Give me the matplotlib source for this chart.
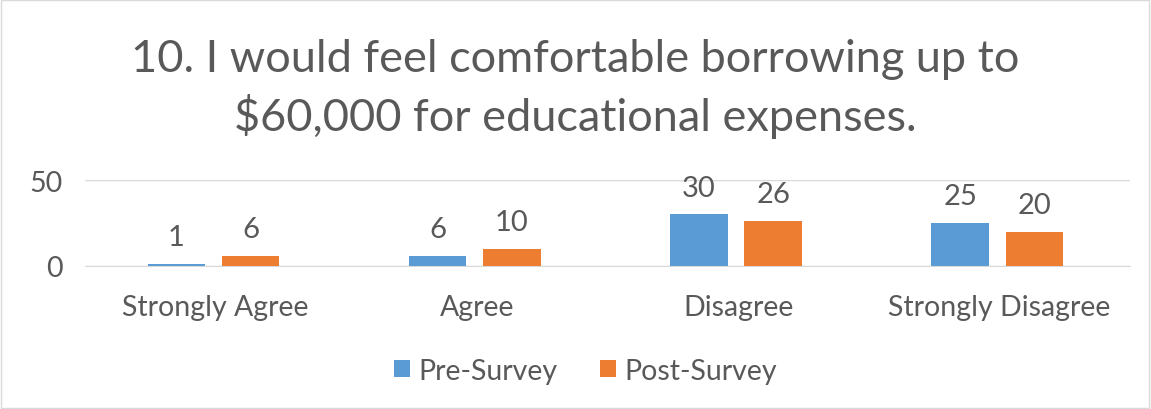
import matplotlib.pyplot as plt
import numpy as np
from matplotlib.patches import Rectangle

categories = ['Strongly Agree', 'Agree', 'Disagree', 'Strongly Disagree']
pre_survey = [1, 6, 30, 25]
post_survey = [6, 10, 26, 20]

blue = '#5B9BD5'
orange = '#ED7D31'
text_gray = '#595959'

plt.rcParams['font.family'] = ['Lato', 'DejaVu Sans']

fig = plt.figure(figsize=(11.51, 4.10), dpi=100)
ax = fig.add_axes([0.0738, 0.3488, 0.908, 0.2097])

x = np.arange(len(categories))
w = 0.22
off = 0.142
b1 = ax.bar(x - off - 0.008, pre_survey, w, color=blue, label='Pre-Survey', zorder=3)
b2 = ax.bar(x + off - 0.008, post_survey, w, color=orange, label='Post-Survey', zorder=3)

# value labels above each bar
for bars, vals in ((b1, pre_survey), (b2, post_survey)):
    for rect, v in zip(bars, vals):
        ax.annotate(str(v), (rect.get_x() + rect.get_width() / 2, v),
                    xytext=(0, 10), textcoords='offset points',
                    ha='center', va='bottom', fontsize=21, color=text_gray)

ax.set_xlim(-0.5, 3.5)
ax.set_ylim(0, 50)
ax.set_yticks([0, 50])
ax.set_xticks(x)
ax.set_xticklabels(categories)
ax.tick_params(axis='both', length=0, labelsize=20.5, colors=text_gray)
ax.tick_params(axis='x', pad=20)
ax.tick_params(axis='y', pad=16)
ax.grid(axis='y', color='#D9D9D9', linewidth=1, zorder=0)
for s in ('top', 'left', 'right'):
    ax.spines[s].set_visible(False)
ax.spines['bottom'].set_color('#D9D9D9')

fig.text(0.5, 0.783, '10. I would feel comfortable borrowing up to\n$60,000 for educational expenses.',
         ha='center', va='center', fontsize=32.5, color=text_gray, linespacing=1.38)

fig.legend(handles=[b1, b2], loc='center', bbox_to_anchor=(0.509, 0.093),
           ncol=2, frameon=False, fontsize=20.5, handlelength=0.55, handleheight=0.55,
           columnspacing=1.5, handletextpad=0.3, labelcolor=text_gray)

fig.add_artist(Rectangle((0.001, 0.002), 0.997, 0.995, transform=fig.transFigure,
                         fill=False, edgecolor='#D9D9D9', linewidth=1))

fig.savefig('out.png', dpi=100)
